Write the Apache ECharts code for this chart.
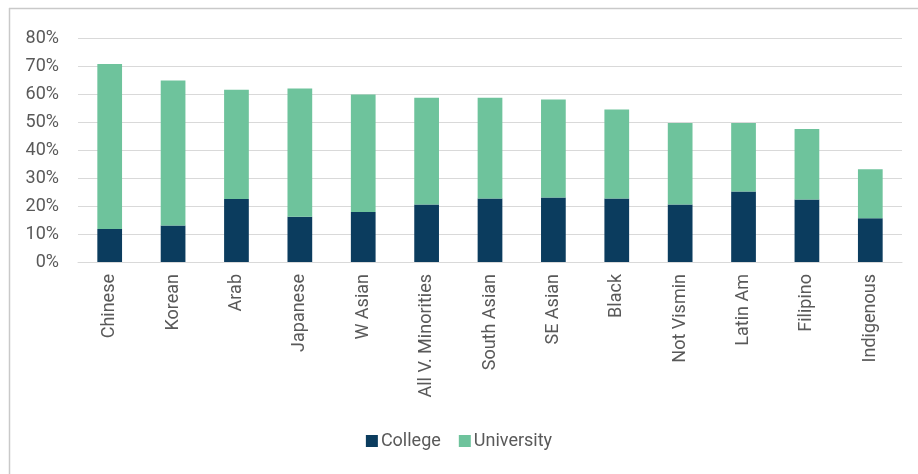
<!DOCTYPE html>
<html>
<head>
<meta charset="utf-8">
<script src="https://cdn.jsdelivr.net/npm/echarts@6/dist/echarts.min.js"></script>
<style>
html,body{margin:0;padding:0;background:#fff;}
#c{width:918px;height:474px;}
</style>
</head>
<body>
<div id="c"></div>
<script>
const categories = ["Chinese","Korean","Arab","Japanese","W Asian","All V. Minorities","South Asian","SE Asian","Black","Not Vismin","Latin Am","Filipino","Indigenous"];
const college = [11.8,13.0,22.5,16.2,17.9,20.5,22.7,23.0,22.7,20.5,25.2,22.3,15.6];
const university = [58.9,51.8,39.0,45.8,41.9,38.2,36.0,35.0,31.8,29.1,24.4,25.2,17.5];
const seriesNames = ["College","University"];

const chart = echarts.init(document.getElementById('c'), null, {renderer:'canvas'});
const font = 'Roboto, "Liberation Sans", sans-serif';
chart.setOption({
  animation:false,
  backgroundColor:'#fff',
  graphic:[
    {type:'line', shape:{x1:9.5,y1:8,x2:9.5,y2:474}, style:{stroke:'#c9c9c9',lineWidth:1.5}},
    {type:'line', shape:{x1:9,y1:8.5,x2:918,y2:8.5}, style:{stroke:'#c9c9c9',lineWidth:1.5}}
  ],
  grid:{left:78,right:16,top:38,bottom:212},
  legend:{
    data:seriesNames, bottom:19, left:'center',
    icon:'rect', itemWidth:12, itemHeight:12, itemGap:18, itemStyle:{borderWidth:0},
    textStyle:{color:'#595959',fontSize:18,fontFamily:font, padding:[0,0,0,-2]}
  },
  xAxis:{
    type:'category', data:categories,
    axisLine:{lineStyle:{color:'#d9d9d9'}},
    axisTick:{show:false},
    axisLabel:{rotate:90, color:'#595959', fontSize:18, fontFamily:font, margin:12, interval:0}
  },
  yAxis:{
    type:'value', min:0, max:80, interval:10,
    axisLabel:{formatter:'{value}%', color:'#595959', fontSize:18, fontFamily:font, margin:19},
    splitLine:{lineStyle:{color:'#d9d9d9'}},
    axisLine:{show:false}, axisTick:{show:false}
  },
  series:[
    {name:seriesNames[0], type:'bar', stack:'a', data:college, barWidth:'39%', itemStyle:{color:'#0b3c5e'}},
    {name:seriesNames[1], type:'bar', stack:'a', data:university, barWidth:'39%', itemStyle:{color:'#6ec39c'}}
  ]
});
</script>
</body>
</html>
